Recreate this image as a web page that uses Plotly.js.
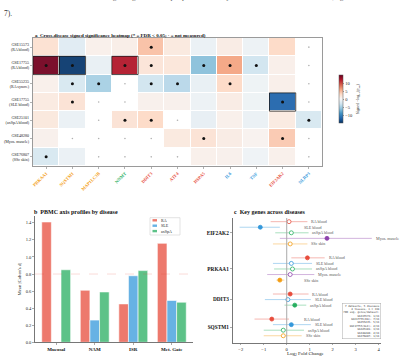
<!DOCTYPE html>
<html><head><meta charset="utf-8">
<script src="https://cdn.plot.ly/plotly-3.0.1.min.js"></script>
<style>html,body{margin:0;padding:0;background:#fff;}#chart{width:400px;height:357px;}</style>
</head><body><div id="chart"></div>
<script>
// ---------- Panel a data ----------
const genes = ['PRKAA1','SQSTM1','MAP1LC3B','NNMT','DDIT3','ATF4','HSPA5','IL6','TNF','EIF2AK2','NLRP3'];
const geneColors = ['#f39c12','#f39c12','#f39c12','#27ae60','#e74c3c','#e74c3c','#e74c3c','#3498db','#3498db','#e74c3c','#3498db'];
const datasetIds = ['GSE15573','GSE17755','GSE55235','GSE17755','GSE25101','GSE48280','GSE76807'];
const datasetDesc = ['RA blood','RA blood','RA synov.','SLE blood','axSpA blood','Myos. muscle','SSc skin'];
const datasetShort = ['GSE15573','GSE17755(RA)','GSE55235','GSE17755(SLE)','GSE25101','GSE48280','GSE76807'];
const signedSig = [
  [2.4,-1.8,0.8,1.0,4.5,1.5,-1.0,1.2,-0.8,3.0,null],
  [14.5,-14.5,-1.2,12.0,2.0,1.8,-6.3,6.0,-3.0,0.9,null],
  [0.8,-2.5,-5.0,null,-3.0,-4.2,-1.2,3.0,-0.7,0.9,null],
  [1.4,2.2,null,null,0.7,0.7,-0.8,1.2,-0.7,-12.0,null],
  [1.6,-1.0,null,2.2,3.0,null,-1.3,0.8,-1.0,1.4,-2.5],
  [0.7,null,null,null,null,1.5,2.2,1.2,0.5,4.0,null],
  [-2.5,-1.0,null,null,null,null,0.8,0.7,-0.6,0.8,null]
];
const fdrSig = [
  [0,0,0,0,1,0,0,0,0,0,0],
  [1,1,0,1,1,0,1,1,1,0,0],
  [0,1,1,0,1,1,0,1,0,0,0],
  [0,1,0,0,0,0,0,0,0,1,0],
  [0,0,0,1,1,0,0,0,0,0,1],
  [0,0,0,0,0,0,1,0,0,1,0],
  [1,0,0,0,0,0,0,0,0,0,0]
];
// ---------- Panel b data ----------
const axisNames = ['Mucosal','NAM','ISR','Met. Gate'];
const raD = [1.41,0.61,0.45,1.16];
const sleD = [null,0.26,0.78,0.49];
const axspaD = [0.85,0.59,0.84,0.47];
const largeEffect = 0.8;
// ---------- Panel c data ----------
const forestGenes = ['EIF2AK2','PRKAA1','DDIT3','SQSTM1'];
const rowGene = ['EIF2AK2','EIF2AK2','EIF2AK2','EIF2AK2','EIF2AK2','PRKAA1','PRKAA1','PRKAA1','PRKAA1','PRKAA1','DDIT3','DDIT3','DDIT3','SQSTM1','SQSTM1','SQSTM1','SQSTM1'];
const rowCohort = ['RA blood','SLE blood','axSpA blood','Myos. muscle','SSc skin','RA blood','SLE blood','axSpA blood','Myos. muscle','SSc skin','RA blood','SLE blood','axSpA blood','RA blood','SLE blood','axSpA blood','SSc skin'];
const lfc  = [0.10,-1.15,0.20,1.75,0.15, 0.90,0.20,0.25,0.15,-0.30, 0.15,0.05,0.35, -0.65,0.20,-0.15,-0.15];
const ciLo = [-0.70,-2.05,-0.50,-0.30,-0.60, 0.20,-0.60,-0.55,-0.85,-0.45, -0.60,-0.95,-0.10, -1.40,-0.60,-1.00,-1.00];
const ciHi = [0.90,-0.30,0.95,3.70,0.90, 1.65,1.10,1.10,1.20,-0.10, 0.95,1.05,0.85, 0.10,1.05,0.75,0.65];
const rowSig = [0,1,0,1,0, 1,0,0,0,1, 1,0,1, 1,1,0,0];
const cohortNames = ['RA blood','SLE blood','axSpA blood','Myos. muscle','SSc skin'];
const cohortColors = ['#e74c3c','#3498db','#27ae60','#8e44ad','#f39c12'];
const summaryHead = ['7 datasets, 5 diseases','4 tissues, n = 338','FDR sig. genes/dataset:'];

const FONT = 'Liberation Serif, DejaVu Serif, serif';
function rgba(hex,a){const n=parseInt(hex.slice(1),16);return `rgba(${n>>16&255},${n>>8&255},${n&255},${a})`;}
const px = v => 1 - v/357;

const traces = [];
const shapes = [];
const annotations = [];

// ---------- heatmap ----------
const rdbu = [[0,'#053061'],[0.1,'#2166ac'],[0.2,'#4393c3'],[0.3,'#92c5de'],[0.4,'#d1e5f0'],[0.5,'#f7f7f7'],[0.6,'#fddbc7'],[0.7,'#f4a582'],[0.8,'#d6604d'],[0.9,'#b2182b'],[1,'#67001f']];
traces.push({
  type:'heatmap', z:signedSig, x:genes.map((g,i)=>i), y:datasetIds.map((d,i)=>i),
  colorscale:rdbu, zmin:-15, zmax:15, xgap:1, ygap:1, opacity:0.95,
  xaxis:'x', yaxis:'y', hoverinfo:'skip',
  colorbar:{x:329/400, xanchor:'left', y:px(99), yanchor:'middle', len:68/357, thickness:4,
    outlinewidth:0.5, outlinecolor:'#555', ticks:'outside', ticklen:1.5, tickwidth:0.5,
    tickvals:[-10,-5,0,5,10], ticktext:['−10','−5','0','5','10'],
    tickfont:{size:4.5, family:FONT, color:'#222'},
    title:{text:'Signed −log<sub>10</sub>(p<sub>adj</sub>)', side:'right', font:{size:4, family:FONT, color:'#222'}}}
});
const sx=[],sy=[],nx=[],ny=[];
signedSig.forEach((row,r)=>row.forEach((v,c)=>{
  if(v===null){nx.push(c);ny.push(r);}
  else if(fdrSig[r][c]){sx.push(c);sy.push(r);}
  if(v!==null && Math.abs(v)>=10){
    shapes.push({type:'rect',xref:'x',yref:'y',x0:c-0.5,x1:c+0.5,y0:r-0.5,y1:r+0.5,line:{color:'#1a1a1a',width:0.8}});
  }
}));
traces.push({type:'scatter',mode:'markers',x:sx,y:sy,xaxis:'x',yaxis:'y',marker:{size:3,color:'#111'},hoverinfo:'skip',showlegend:false});
traces.push({type:'scatter',mode:'markers',x:nx,y:ny,xaxis:'x',yaxis:'y',marker:{size:1.6,color:'#b0b0b0'},hoverinfo:'skip',showlegend:false});

// ---------- bars ----------
const barSeries = [['RA',raD,'#e74c3c'],['SLE',sleD,'#3498db'],['axSpA',axspaD,'#27ae60']];
barSeries.forEach(([name,vals,col])=>{
  traces.push({type:'bar',name:name,x:axisNames,y:vals,xaxis:'x2',yaxis:'y2',
    marker:{color:rgba(col,0.75),line:{color:'#ffffff',width:0.6}},showlegend:false,hoverinfo:'skip'});
});
shapes.push({type:'line',xref:'x2 domain',yref:'y2',x0:0,x1:1,y0:largeEffect,y1:largeEffect,line:{color:'rgba(231,76,60,0.25)',width:0.8,dash:'dash'}});
// custom legend box
shapes.push({type:'rect',xref:'paper',yref:'paper',x0:150/400,x1:180/400,y0:px(235),y1:px(217.7),line:{color:'#d0d0d0',width:0.6},fillcolor:'rgba(255,255,255,0.9)'});
barSeries.forEach(([name,vals,col],i)=>{
  const yc = 220.3 + i*5.4;
  shapes.push({type:'rect',xref:'paper',yref:'paper',x0:152.5/400,x1:157/400,y0:px(yc+1.2),y1:px(yc-1.2),line:{width:0},fillcolor:rgba(col,0.75)});
  annotations.push({xref:'paper',yref:'paper',x:159/400,y:px(yc),xanchor:'left',yanchor:'middle',showarrow:false,text:name,font:{size:4,family:FONT,color:'#222'}});
});

// ---------- forest ----------
const groupGap = 2.5;
const rowPos = [];
let pos = 0;
rowGene.forEach((g,i)=>{ if(i>0 && g!==rowGene[i-1]) pos += groupGap; else if(i>0) pos += 1; rowPos.push(pos); });
const geneTickPos = forestGenes.map(g=>{const p=rowPos.filter((_,i)=>rowGene[i]===g);return p.reduce((a,b)=>a+b,0)/p.length;});
cohortNames.forEach((cn,k)=>{
  const idx = rowCohort.map((c,i)=>c===cn?i:-1).filter(i=>i>=0);
  const col = cohortColors[k];
  traces.push({type:'scatter',mode:'markers',xaxis:'x3',yaxis:'y3',showlegend:false,hoverinfo:'skip',
    x:idx.map(i=>lfc[i]), y:idx.map(i=>rowPos[i]),
    error_x:{type:'data',symmetric:false,array:idx.map(i=>ciHi[i]-lfc[i]),arrayminus:idx.map(i=>lfc[i]-ciLo[i]),color:rgba(col,0.4),thickness:1,width:0},
    marker:{size:4,color:idx.map(i=>rowSig[i]?col:'#ffffff'),line:{color:col,width:0.8}}
  });
});
rowCohort.forEach((c,i)=>{
  annotations.push({xref:'x3',yref:'y3',x:Math.max(ciHi[i],0.6)+0.08,y:rowPos[i],xanchor:'left',yanchor:'middle',showarrow:false,
    text:c,font:{size:4.1,family:FONT,color:'#555'}});
});
shapes.push({type:'line',xref:'x3',yref:'y3 domain',x0:0,x1:0,y0:0,y1:1,line:{color:'#aaaaaa',width:1}});
// summary box
const summaryLines = summaryHead.concat(datasetShort.map((d,r)=>d+': '+fdrSig[r].reduce((a,b)=>a+b,0)+'/'+genes.length));
annotations.push({xref:'paper',yref:'paper',x:342/400,y:px(303),xanchor:'left',yanchor:'top',showarrow:false,align:'right',
  text:summaryLines.join('<br>'),font:{size:2.6,family:'DejaVu Sans Mono, monospace',color:'#333'},
  bordercolor:'#aaaaaa',borderwidth:0.5,borderpad:1,bgcolor:'#ffffff'});
annotations.push({xref:'paper',yref:'paper',x:306/400,y:px(354.3),xanchor:'center',yanchor:'middle',showarrow:false,
  text:'Log<sub>2</sub> Fold Change',font:{size:5,family:FONT,color:'#222'}});

// ---------- titles & surrounding text ----------
annotations.push({xref:'paper',yref:'paper',x:33/400,y:px(35.7),xanchor:'left',yanchor:'middle',showarrow:false,
  text:'<b>a&nbsp;&nbsp;Cross-disease signed significance heatmap (* = FDR &lt; 0.05; · = not measured)</b>',font:{size:5,family:FONT,color:'#111'}});
annotations.push({xref:'paper',yref:'paper',x:32/400,y:px(212),xanchor:'left',yanchor:'middle',showarrow:false,
  text:'<b>b&nbsp;&nbsp;PBMC axis profiles by disease</b>',font:{size:6,family:FONT,color:'#111'}});
annotations.push({xref:'paper',yref:'paper',x:232/400,y:px(212),xanchor:'left',yanchor:'middle',showarrow:false,
  text:'<b>c&nbsp;&nbsp;Key genes across diseases</b>',font:{size:6,family:FONT,color:'#111'}});
annotations.push({xref:'paper',yref:'paper',x:2/400,y:px(14),xanchor:'left',yanchor:'middle',showarrow:false,
  text:'7).',font:{size:7.5,family:FONT,color:'#333'}});
annotations.push({xref:'paper',yref:'paper',x:2/400,y:px(-3.5),xanchor:'left',yanchor:'middle',showarrow:false,
  text:'with concordant ISR and metabolic-gate signals across peripheral blood, synovium, muscle and skin cohorts (Fig.',font:{size:7.5,family:FONT,color:'#555'}});

const layout = {
  width:400, height:357, autosize:false, margin:{l:0,r:0,t:0,b:0},
  paper_bgcolor:'#ffffff', plot_bgcolor:'#ffffff', showlegend:false,
  font:{family:FONT,color:'#222'},
  bargap:0.25, bargroupgap:0, barmode:'group',
  xaxis:{domain:[33/400,322/400], anchor:'y', range:[-0.5,10.5], tickvals:genes.map((g,i)=>i),
    ticktext:genes.map((g,i)=>`<b><span style="color:${geneColors[i]}">${g}</span></b>`),
    tickangle:-45, tickfont:{size:4.5,family:FONT}, ticks:'outside', ticklen:2, tickwidth:0.5, tickcolor:'#666',
    showline:true, mirror:true, linecolor:'#9a9a9a', linewidth:1.2, showgrid:false, zeroline:false, fixedrange:true},
  yaxis:{domain:[px(166),px(38)], anchor:'x', range:[6.5,-0.5], tickvals:datasetIds.map((d,i)=>i),
    ticktext:datasetIds.map((d,i)=>d+'<br>('+datasetDesc[i]+')'),
    tickfont:{size:4,family:FONT,color:'#222'}, ticks:'outside', ticklen:2, tickwidth:0.5, tickcolor:'#666',
    showline:true, mirror:true, linecolor:'#9a9a9a', linewidth:1.2, showgrid:false, zeroline:false},
  xaxis2:{domain:[35/400,193/400], anchor:'y2', type:'category', range:[-0.55,3.55],
    tickfont:{size:5,family:FONT,color:'#111'}, ticktext:axisNames.map(a=>'<b>'+a+'</b>'), tickvals:axisNames,
    ticks:'outside', ticklen:2, tickwidth:0.5, tickcolor:'#555',
    showline:true, linecolor:'#555', linewidth:0.8, showgrid:false, zeroline:false},
  yaxis2:{domain:[px(342.3),px(216)], anchor:'x2', range:[0,1.48], dtick:0.2, tickformat:'.1f',
    tickfont:{size:4.5,family:FONT,color:'#222'}, ticks:'outside', ticklen:2, tickwidth:0.5, tickcolor:'#555',
    showline:true, linecolor:'#555', linewidth:0.8, showgrid:false, zeroline:false,
    title:{text:"Mean |Cohen's d|", font:{size:4.8,family:FONT,color:'#222'}, standoff:3}},
  xaxis3:{domain:[232.7/400,381/400], anchor:'y3', range:[-2.35,4.1], tickvals:[-2,-1,0,1,2,3,4],
    ticktext:['−2','−1','0','1','2','3','4'], tickfont:{size:4.6,family:FONT,color:'#222'},
    ticks:'outside', ticklen:1.5, tickwidth:0.5, tickcolor:'#555',
    showline:true, linecolor:'#555', linewidth:0.8, showgrid:false, zeroline:false},
  yaxis3:{domain:[px(343),px(218)], anchor:'x3', range:[rowPos[rowPos.length-1]+1.3,-0.66],
    tickvals:geneTickPos, ticktext:forestGenes.map(g=>'<b>'+g+'</b>'), tickfont:{size:5.3,family:FONT,color:'#111'},
    ticks:'outside', ticklen:2, tickwidth:0.5, tickcolor:'#555',
    showline:true, linecolor:'#555', linewidth:0.8, showgrid:false, zeroline:false},
  shapes:shapes, annotations:annotations
};
Plotly.newPlot('chart', traces, layout, {staticPlot:true, displayModeBar:false});
</script>
</body></html>
